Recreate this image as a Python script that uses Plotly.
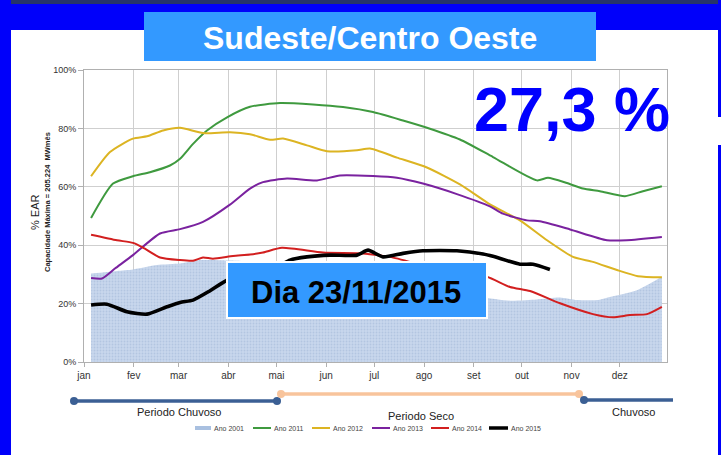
import plotly.graph_objects as go

# ---------------- data ----------------
meses = ["jan", "fev", "mar", "abr", "mai", "jun", "jul", "ago", "set", "out", "nov", "dez"]
inicio_mes = [0, 31, 59, 90, 120, 151, 181, 212, 243, 273, 304, 334]
y_ticks = [0, 20, 40, 60, 80, 100]
y_ticktext = ["0%", "20%", "40%", "60%", "80%", "100%"]

dias_2001 = [4.4, 20.6, 30.5, 45.5, 59.9, 72.3, 89.2, 103.5, 135, 166, 197, 228, 246.9,
             265.6, 282.4, 296.8, 307.4, 319.8, 327.9, 344.8, 360.3]
ear_2001 = [30.3, 31.2, 31.7, 33.2, 33.7, 34.9, 34.8, 34.5, 32.0, 29.0, 26.0, 23.5, 22.3,
            21.0, 21.4, 22.1, 21.2, 21.2, 22.3, 24.6, 29.2]

dias_2011 = [4.4, 18.1, 30.5, 41.1, 53.6, 59.9, 68, 76.7, 89.2, 103.5, 122.2, 142.8, 161.5,
             180.2, 198.9, 215.7, 234.4, 255, 282.4, 289.3, 301.1, 311.1, 321.7, 337.3, 348.5, 360.3]
ear_2011 = [49.3, 61.1, 63.6, 65.0, 67.3, 69.6, 74.7, 79.3, 83.8, 87.4, 88.7, 88.2, 87.3,
            85.6, 82.7, 79.9, 76.2, 70.2, 62.2, 63.1, 61.3, 59.4, 58.5, 56.8, 58.5, 60.2]

dias_2012 = [4.4, 16.2, 30.5, 39.3, 49.3, 59.9, 74.2, 91, 103.5, 116, 124.1, 139, 151.5,
             170.2, 178.3, 195.1, 213.8, 234.4, 253.1, 271.8, 288.7, 304.9, 317.3, 332.3, 345.4, 360.3]
ear_2012 = [63.6, 71.9, 76.5, 77.3, 79.3, 80.2, 78.4, 78.7, 78.0, 76.1, 76.5, 74.2, 72.2,
            72.5, 73.1, 70.0, 66.6, 60.8, 54.0, 48.5, 41.7, 36.0, 34.3, 31.5, 29.4, 29.0]

dias_2013 = [4.4, 11.2, 19.3, 30.5, 47.4, 59.9, 74.2, 91, 103.5, 111.6, 126.6, 145.3, 159.6,
             180.2, 195.1, 211.3, 232.5, 253.1, 261.2, 276.2, 284.3, 303.1, 326.1, 338.5, 360.3]
ear_2013 = [28.8, 28.6, 32.0, 36.6, 44.0, 45.5, 48.0, 53.9, 59.4, 61.6, 62.8, 62.2, 63.9,
            63.7, 63.1, 61.1, 57.5, 53.3, 50.8, 48.5, 48.2, 45.4, 41.7, 41.7, 42.8]

dias_2014 = [4.4, 20.6, 30.5, 36.8, 47.4, 59.9, 68, 74.2, 80.4, 92.9, 103.5, 111.6, 123.4,
             149, 173.9, 190.8, 215.7, 234.4, 251.2, 265.6, 278.1, 296.8, 317.3, 329.8, 340.4, 351, 360.3]
ear_2014 = [43.6, 41.7, 40.8, 39.2, 35.8, 34.9, 34.7, 35.8, 35.4, 36.3, 36.8, 37.5, 39.1,
            37.5, 37.2, 36.0, 32.5, 30.5, 29.2, 25.7, 24.3, 20.1, 16.4, 15.3, 16.1, 16.4, 18.9]

dias_2015 = [4.4, 14.3, 26.8, 39.3, 51.7, 59.9, 68, 78.6, 89.2, 108, 122, 128.4, 139, 153.4,
             170.2, 177.1, 186.4, 198.9, 211.3, 232.5, 248.8, 255, 271.8, 279.9, 290.5]
ear_2015 = [19.5, 19.8, 17.2, 16.4, 18.9, 20.4, 21.2, 24.4, 28.0, 31.0, 33.0, 34.9, 36.0, 36.6,
            36.6, 38.3, 36.0, 37.2, 38.1, 38.1, 37.0, 36.2, 33.5, 33.5, 31.7]

nomes = ["Ano 2001", "Ano 2011", "Ano 2012", "Ano 2013", "Ano 2014", "Ano 2015"]
cores = ["#b7cbe6", "#3f9a3f", "#dcb422", "#7a229f", "#d21f1f", "#000000"]

titulo = "Sudeste/Centro Oeste"
valor_atual = "27,3 %"
data_ref = "Dia 23/11/2015"

# ---------------- layout helpers ----------------
W, H = 721, 455
L, R, T, B = 84, 54, 70, 93
PW, PH = W - L - R, H - T - B


def fx(x):
    return (x - L) / PW


def fy(y):
    return (H - B - y) / PH


ARIAL = "Liberation Sans, Arial, sans-serif"

fig = go.Figure()

fig.add_trace(go.Scatter(
    x=dias_2001, y=ear_2001, mode="lines", name=nomes[0],
    line=dict(width=0, color=cores[0], shape="spline", smoothing=0.6),
    fill="tozeroy", fillcolor="#c6d6ec",
    fillpattern=dict(shape=".", bgcolor="#c8d7ec", fgcolor="#9db4d6", size=3, solidity=0.3),
    showlegend=False,
))

series = [(dias_2011, ear_2011), (dias_2012, ear_2012), (dias_2013, ear_2013),
          (dias_2014, ear_2014), (dias_2015, ear_2015)]
for i, (dx, dy) in enumerate(series, start=1):
    fig.add_trace(go.Scatter(
        x=dx, y=dy, mode="lines", name=nomes[i],
        line=dict(width=3.6 if i == 5 else 2, color=cores[i], shape="spline", smoothing=0.6),
        showlegend=False,
    ))

shapes = []
annotations = []

# slide frame
shapes += [
    dict(type="rect", xref="paper", yref="paper", x0=fx(0), x1=fx(W), y0=fy(0), y1=fy(4),
         fillcolor="#26346a", line_width=0, layer="below"),
    dict(type="rect", xref="paper", yref="paper", x0=fx(0), x1=fx(W), y0=fy(4), y1=fy(30),
         fillcolor="#0000fa", line_width=0, layer="below"),
    dict(type="rect", xref="paper", yref="paper", x0=fx(0), x1=fx(11), y0=fy(0), y1=fy(H),
         fillcolor="#0000fa", line_width=0, layer="below"),
    dict(type="rect", xref="paper", yref="paper", x0=fx(718), x1=fx(W), y0=fy(0), y1=fy(117),
         fillcolor="#0000fa", line_width=0, layer="below"),
    dict(type="rect", xref="paper", yref="paper", x0=fx(718), x1=fx(W), y0=fy(145), y1=fy(H),
         fillcolor="#0000fa", line_width=0, layer="below"),
    # title box
    dict(type="rect", xref="paper", yref="paper", x0=fx(144), x1=fx(596), y0=fy(12), y1=fy(61),
         fillcolor="#3399ff", line_width=0, layer="above"),
    # date box
    dict(type="rect", xref="paper", yref="paper", x0=fx(227), x1=fx(487), y0=fy(262), y1=fy(318),
         fillcolor="#3399ff", line=dict(color="white", width=2), layer="above"),
]

annotations += [
    dict(text="<b>" + titulo + "</b>", x=fx(370), y=fy(38), xref="paper", yref="paper",
         showarrow=False, font=dict(family=ARIAL, size=32, color="white"),
         xanchor="center", yanchor="middle"),
    dict(text="<b>" + valor_atual + "</b>", x=fx(572), y=fy(109), xref="paper", yref="paper",
         showarrow=False, font=dict(family=ARIAL, size=63, color="#0000ff"),
         xanchor="center", yanchor="middle"),
    dict(text="<b>" + data_ref + "</b>", x=fx(356), y=fy(292), xref="paper", yref="paper",
         showarrow=False, font=dict(family=ARIAL, size=31, color="black"),
         xanchor="center", yanchor="middle"),
    dict(text="% EAR", x=fx(35), y=fy(212), xref="paper", yref="paper", textangle=-90,
         showarrow=False, font=dict(family=ARIAL, size=11, color="#222"),
         xanchor="center", yanchor="middle"),
    dict(text="<b>Capacidade Máxima = 205.224  MWmês</b>", x=fx(47), y=fy(202),
         xref="paper", yref="paper", textangle=-90,
         showarrow=False, font=dict(family=ARIAL, size=7.5, color="#222"),
         xanchor="center", yanchor="middle"),
]

# periods timeline
AZUL = "#3b5f94"
PESSEGO = "#f8c49c"
timeline = [(74, 277, 401, AZUL, True, True), (281, 579, 394, PESSEGO, True, True),
            (584, 673, 400, AZUL, True, False)]
for x0, x1, yy, c, d0, d1 in timeline:
    shapes.append(dict(type="line", xref="paper", yref="paper", x0=fx(x0), x1=fx(x1),
                       y0=fy(yy), y1=fy(yy), line=dict(color=c, width=3.5)))
    for on, xc in ((d0, x0), (d1, x1)):
        if on:
            shapes.append(dict(type="circle", xref="paper", yref="paper",
                               x0=fx(xc - 4), x1=fx(xc + 4), y0=fy(yy - 4), y1=fy(yy + 4),
                               fillcolor=c, line_width=0))
for txt, xc, yc in (("Periodo Chuvoso", 179, 412), ("Periodo Seco", 421, 416), ("Chuvoso", 633, 412)):
    annotations.append(dict(text=txt, x=fx(xc), y=fy(yc), xref="paper", yref="paper",
                            showarrow=False, font=dict(family=ARIAL, size=11, color="#222"),
                            xanchor="center", yanchor="middle"))

# legend (manual, compact)
leg_x = [195, 253, 312, 372, 431, 489]
leg_w = [16, 18, 18, 18, 18, 19]
leg_y = 428
for i, nome in enumerate(nomes):
    x0 = leg_x[i]
    if i == 0:
        shapes.append(dict(type="rect", xref="paper", yref="paper", x0=fx(x0), x1=fx(x0 + leg_w[i]),
                           y0=fy(leg_y - 2), y1=fy(leg_y + 2), fillcolor="#a9c0e0", line_width=0))
    else:
        shapes.append(dict(type="line", xref="paper", yref="paper", x0=fx(x0), x1=fx(x0 + leg_w[i]),
                           y0=fy(leg_y), y1=fy(leg_y),
                           line=dict(color=cores[i], width=3.5 if i == 5 else 2)))
    annotations.append(dict(text=nome, x=fx(x0 + leg_w[i] + 1), y=fy(leg_y), xref="paper", yref="paper",
                            showarrow=False, font=dict(family=ARIAL, size=7, color="#444"),
                            xanchor="left", yanchor="middle"))

fig.update_layout(
    width=W, height=H,
    margin=dict(l=L, r=R, t=T, b=B, pad=0),
    paper_bgcolor="white", plot_bgcolor="white",
    showlegend=False,
    shapes=shapes, annotations=annotations,
    xaxis=dict(range=[0, 363.5], tickmode="array", tickvals=inicio_mes, ticktext=meses,
               showgrid=True, gridcolor="#cfcfcf", gridwidth=1,
               showline=True, linecolor="#b0b0b0", mirror=True,
               ticks="outside", ticklen=4, tickcolor="#b0b0b0",
               tickfont=dict(family=ARIAL, size=10, color="#333"), zeroline=False),
    yaxis=dict(range=[0, 100], tickmode="array", tickvals=y_ticks, ticktext=y_ticktext,
               showgrid=True, gridcolor="#cfcfcf", gridwidth=1,
               showline=True, linecolor="#b0b0b0", mirror=True,
               ticks="outside", ticklen=5, tickcolor="#b0b0b0",
               tickfont=dict(family=ARIAL, size=9, color="#333"), zeroline=False),
)

fig.write_html(
    "out.html",
    config={"displayModeBar": False},
    post_script="document.body.style.margin='0';document.body.style.padding='0';"
                "document.body.style.overflow='hidden';",
)
